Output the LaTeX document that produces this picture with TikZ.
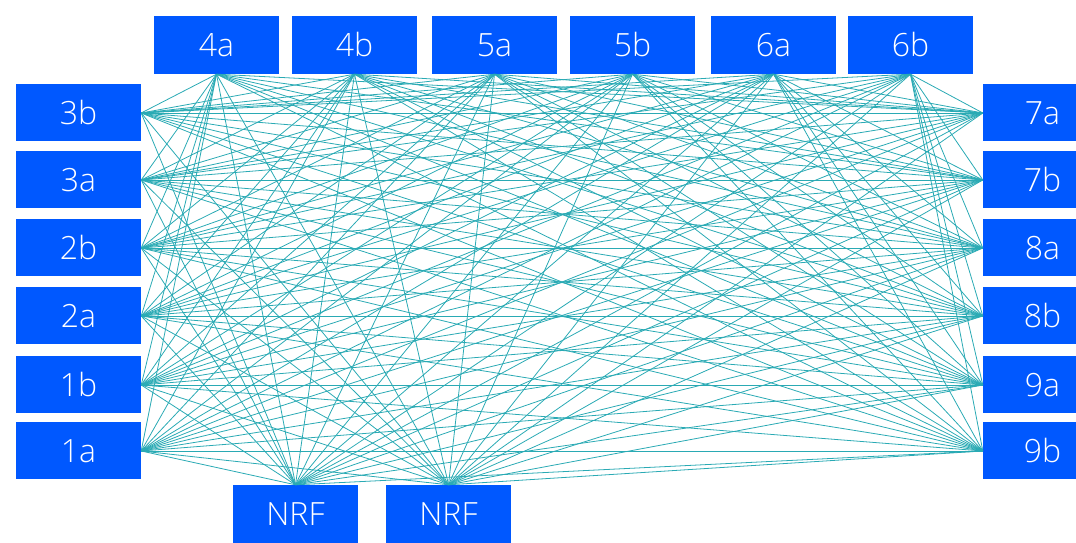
\documentclass[tikz,border=0pt]{standalone}
\usepackage{fontspec}
\setmainfont{Open Sans Light}
\definecolor{boxblue}{RGB}{0,88,255}
\definecolor{meshteal}{RGB}{42,170,180}
\begin{document}
\begin{tikzpicture}[x=1pt,y=1pt,
  nf/.style={fill=boxblue, draw=none, text=white, minimum width=125pt,
    minimum height=57pt, inner sep=0pt, font=\fontsize{32}{32}\selectfont},
  link/.style={draw=meshteal, line width=0.8pt}]
\useasboundingbox (0,0) rectangle (1076,543);
% top row
\foreach \n/\lab/\x in {t1/4a/216.5, t2/4b/354.5, t3/5a/494.5, t4/5b/632.5, t5/6a/773.5, t6/6b/910.5}
  \node[nf, minimum height=58pt] (\n) at (\x,498) {\lab};
% left column
\foreach \n/\lab/\y in {l1/3b/113, l2/3a/180, l3/2b/248, l4/2a/316, l5/1b/385, l6/1a/451}
  \node[nf] (\n) at (78.5,543-\y) {\lab};
% right column
\foreach \n/\lab/\y in {r1/7a/113, r2/7b/180, r3/8a/248, r4/8b/316, r5/9a/385, r6/9b/451}
  \node[nf] (\n) at (1045.5,543-\y) {\hspace*{-6pt}\lab};
% NRF pair
\node[nf, minimum height=58pt] (n1) at (295.5,29) {NRF};
\node[nf, minimum height=58pt] (n2) at (448.5,29) {NRF};
% mesh
\foreach \a in {l1,l2,l3,l4,l5,l6}{
  \foreach \b in {t1,t2,t3,t4,t5,t6} \draw[link] (\a.east) -- (\b.south);
  \foreach \b in {r1,r2,r3,r4,r5,r6} \draw[link] (\a.east) -- (\b.west);
  \foreach \b in {n1,n2} \draw[link] (\a.east) -- (\b.north);
}
\foreach \a in {t1,t2,t3,t4,t5,t6}{
  \foreach \b in {r1,r2,r3,r4,r5,r6} \draw[link] (\a.south) -- (\b.west);
  \foreach \b in {n1,n2} \draw[link] (\a.south) -- (\b.north);
}
\foreach \a in {r1,r2,r3,r4,r5,r6}{
  \foreach \b in {n1,n2} \draw[link] (\a.west) -- (\b.north);
}
\end{tikzpicture}
\end{document}
